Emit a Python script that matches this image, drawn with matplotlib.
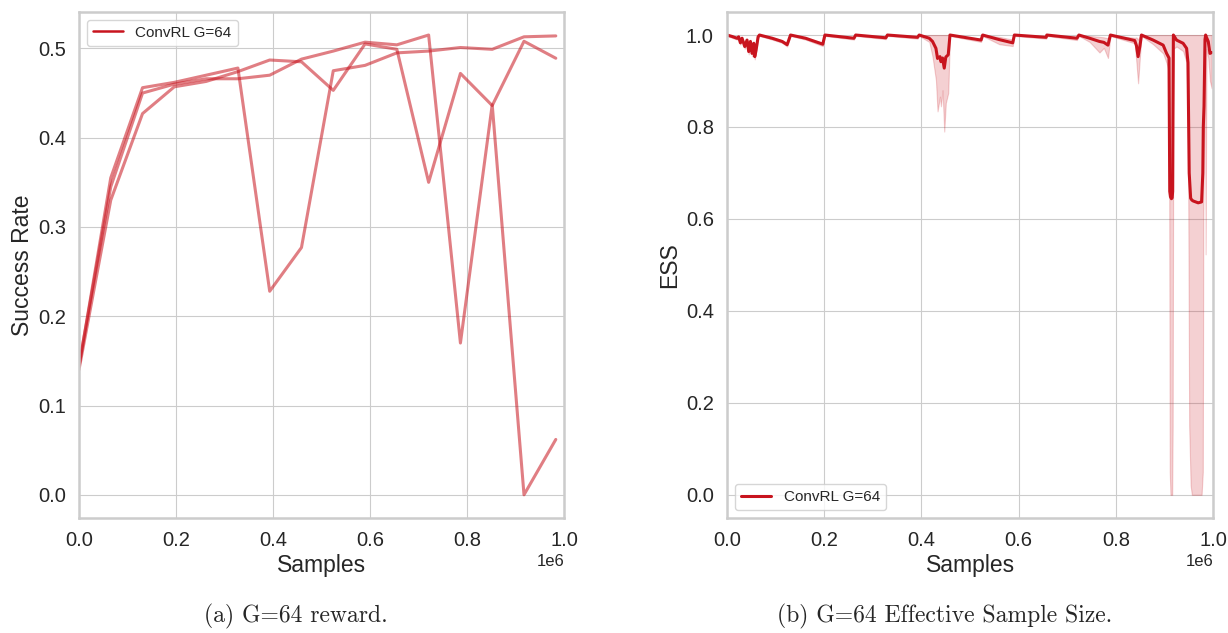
import numpy as np
import matplotlib
matplotlib.use("Agg")
import matplotlib.pyplot as plt
import seaborn as sns
from matplotlib.lines import Line2D

sns.set_style("whitegrid")
plt.rcParams['font.family'] = ['Liberation Sans', 'DejaVu Sans']

RED = '#c8141e'

# ---- left panel: success rate of three runs, evaluated every 65536 samples
eval_step = 65536
run_b = [0.143, 0.355, 0.456, 0.462, 0.470, 0.478, 0.228, 0.277,
         0.475, 0.481, 0.495, 0.497, 0.501, 0.499, 0.513, 0.514]
run_c = [0.145, 0.345, 0.450, 0.460, 0.466, 0.466, 0.470, 0.488,
         0.497, 0.507, 0.504, 0.515, 0.170, 0.437, 0.000, 0.062]
run_d = [0.140, 0.330, 0.427, 0.457, 0.463, 0.474, 0.487, 0.485,
         0.453, 0.505, 0.499, 0.350, 0.472, 0.436, 0.508, 0.489]

# ---- right panel: ESS mean and min/max band (x in millions of samples)
ess_x = [0.000, 0.010, 0.0206, 0.024, 0.0276, 0.031, 0.0365, 0.0412, 0.0447,
         0.0482, 0.0515, 0.055, 0.0571, 0.0598, 0.064, 0.0668, 0.0928, 0.1134,
         0.1237, 0.1307, 0.1616, 0.189, 0.197, 0.2014, 0.261, 0.2647, 0.3266,
         0.330, 0.3918, 0.3953, 0.416, 0.4227, 0.4297, 0.433, 0.438, 0.440,
         0.4433, 0.4468, 0.450, 0.455, 0.4586, 0.5225, 0.5258, 0.560, 0.5876,
         0.591, 0.6564, 0.6577, 0.7196, 0.7237, 0.7458, 0.766, 0.775, 0.7835,
         0.7885, 0.8385, 0.842, 0.8454, 0.849, 0.8524, 0.8763, 0.897, 0.904,
         0.909, 0.9105, 0.912, 0.914, 0.9155, 0.9165, 0.917, 0.918, 0.9245,
         0.938, 0.9452, 0.948, 0.9505, 0.9535, 0.956, 0.9588, 0.969, 0.976,
         0.9785, 0.9795, 0.981, 0.983, 0.9843, 0.986, 0.9897, 0.9932, 0.9967]
ess_mean = [1.000, 0.997, 0.993, 0.996, 0.983, 0.993, 0.975, 0.989, 0.964,
            0.986, 0.960, 0.982, 0.953, 0.967, 0.996, 1.000, 0.993, 0.986,
            0.979, 1.000, 0.993, 0.983, 0.980, 1.000, 0.993, 1.000, 0.994,
            1.000, 0.995, 1.000, 0.993, 0.986, 0.971, 0.949, 0.953, 0.942,
            0.950, 0.928, 0.952, 0.957, 1.000, 0.989, 1.000, 0.990, 0.983,
            1.000, 0.995, 1.000, 0.993, 1.000, 0.993, 0.986, 0.984, 0.978,
            1.000, 0.988, 0.977, 0.953, 0.975, 1.000, 0.989, 0.978, 0.960,
            0.950, 0.660, 0.648, 0.644, 0.646, 0.660, 0.800, 1.000, 0.989,
            0.982, 0.971, 0.940, 0.700, 0.645, 0.641, 0.639, 0.635, 0.637,
            0.700, 0.800, 0.845, 0.990, 1.000, 0.995, 0.986, 0.960, 0.962]
ess_lo = [0.998, 0.994, 0.990, 0.993, 0.979, 0.990, 0.970, 0.985, 0.958,
          0.982, 0.954, 0.977, 0.947, 0.962, 0.993, 0.998, 0.990, 0.983,
          0.975, 0.998, 0.990, 0.979, 0.976, 0.998, 0.990, 0.998, 0.991,
          0.998, 0.992, 0.998, 0.985, 0.953, 0.902, 0.834, 0.866, 0.845,
          0.880, 0.790, 0.852, 0.874, 0.998, 0.985, 0.998, 0.980, 0.976,
          0.998, 0.992, 0.998, 0.989, 0.998, 0.985, 0.962, 0.972, 0.950,
          0.998, 0.982, 0.940, 0.895, 0.950, 0.998, 0.980, 0.960, 0.939,
          0.920, 0.050, 0.000, 0.000, 0.000, 0.150, 0.400, 0.970, 0.975,
          0.965, 0.940, 0.800, 0.150, 0.020, 0.000, 0.000, 0.000, 0.000,
          0.050, 0.600, 0.780, 0.950, 0.523, 0.970, 0.950, 0.900, 0.884]
ess_hi = [1.000, 0.999, 0.996, 0.998, 0.987, 0.996, 0.980, 0.992, 0.970,
          0.990, 0.966, 0.986, 0.959, 0.972, 0.998, 1.000, 0.995, 0.989,
          0.983, 1.000, 0.995, 0.986, 0.984, 1.000, 0.995, 1.000, 0.996,
          1.000, 0.997, 1.000, 1.000, 1.000, 1.000, 1.000, 1.000, 1.000,
          1.000, 1.000, 1.000, 1.000, 1.000, 0.992, 1.000, 0.996, 0.990,
          1.000, 0.997, 1.000, 0.996, 1.000, 0.998, 0.996, 0.995, 0.993,
          1.000, 0.994, 0.995, 0.990, 0.998, 1.000, 1.000, 1.000, 1.000,
          1.000, 1.000, 1.000, 1.000, 1.000, 1.000, 1.000, 1.000, 1.000,
          1.000, 1.000, 1.000, 1.000, 1.000, 1.000, 1.000, 1.000, 1.000,
          1.000, 1.000, 1.000, 1.000, 1.000, 1.000, 1.000, 1.000, 1.000]

label = 'ConvRL G=64'

fig = plt.figure(figsize=(12.28, 6.33), dpi=100)
ax1 = fig.add_axes([0.0643, 0.182, 0.395, 0.799])
ax2 = fig.add_axes([0.592, 0.182, 0.396, 0.799])

steps = np.arange(len(run_b)) * eval_step
for run in (run_b, run_c, run_d):
    ax1.plot(steps, run, color=RED, alpha=0.55, lw=2.2)
ax1.set_xlim(0, 1e6)
ax1.set_xlabel('Samples', fontsize=16.5, labelpad=3)
ax1.set_ylabel('Success Rate', fontsize=16.5, labelpad=3)
ax1.legend(handles=[Line2D([], [], color=RED, lw=1.8)], labels=[label],
           loc='upper left', fontsize=11)

xs = np.array(ess_x) * 1e6
ax2.fill_between(xs, ess_lo, ess_hi, color=RED, alpha=0.2, lw=0.8)
ax2.plot(xs, ess_mean, color=RED, lw=2.2, label=label)
ax2.set_xlim(0, 1e6)
ax2.set_xlabel('Samples', fontsize=16.5, labelpad=3)
ax2.set_ylabel('ESS', fontsize=16.5, labelpad=3)
ax2.legend(loc='lower left', fontsize=11)

for ax in (ax1, ax2):
    ax.tick_params(labelsize=14.5, pad=6)
    ax.xaxis.get_offset_text().set_fontsize(12)
    for s in ax.spines.values():
        s.set_color('#cccccc')
        s.set_linewidth(1.8)

fig.text(0.241, 0.016, '(a) G=64 reward.', family='cmr10', fontsize=17, ha='center')
fig.text(0.769, 0.016, '(b) G=64 Effective Sample Size.', family='cmr10', fontsize=17, ha='center')

fig.savefig('out.png', dpi=100)
